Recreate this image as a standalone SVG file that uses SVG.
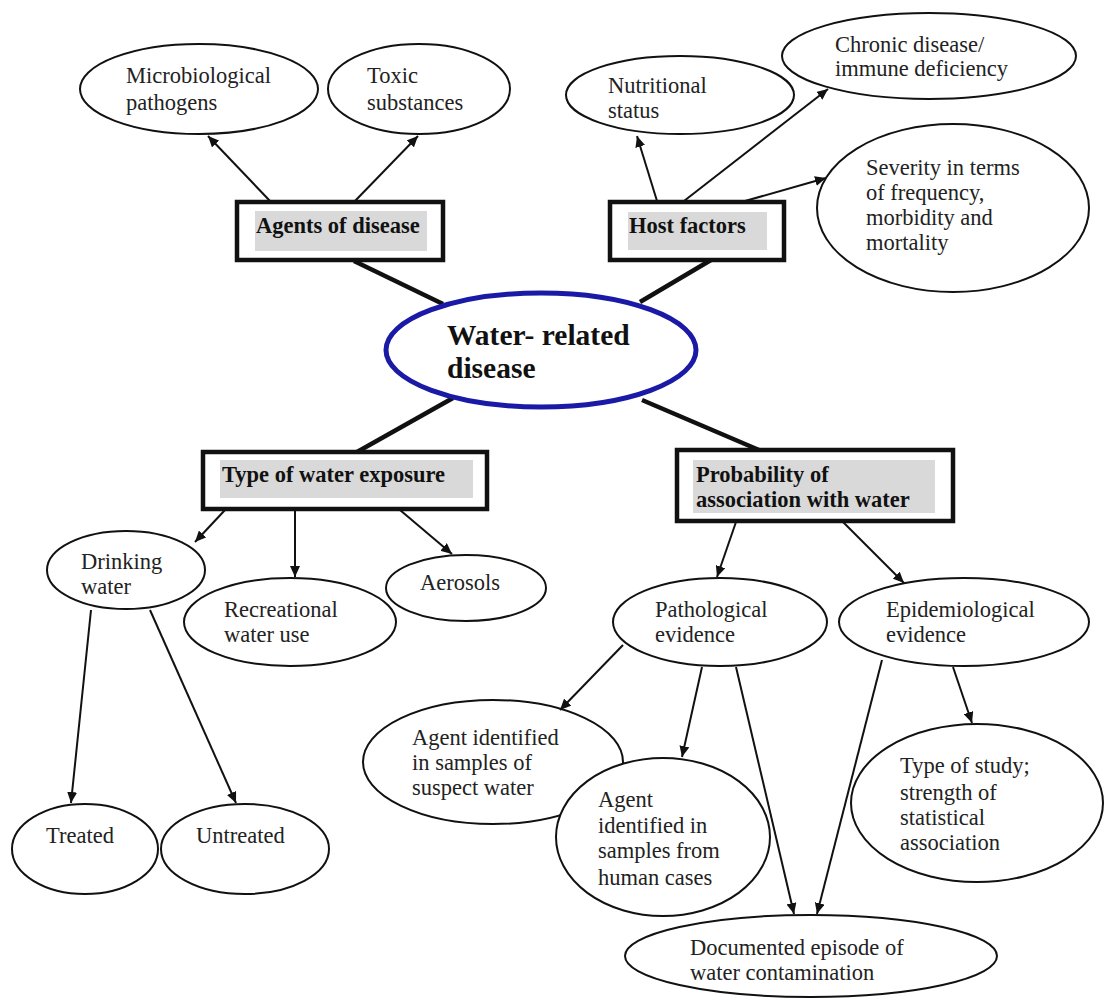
<svg xmlns="http://www.w3.org/2000/svg" width="1105" height="1001" viewBox="0 0 1105 1001">
<style>
  .bg { fill: #ffffff; }
  .node { fill: #ffffff; stroke: #111; stroke-width: 2; }
  .hub { fill: #ffffff; stroke: #1a1aa6; stroke-width: 5; }
  .box { fill: #ffffff; stroke: #111; stroke-width: 4.5; }
  .shade { fill: #d9d9d9; stroke: none; }
  .t { font-family: "Liberation Serif", "Times New Roman", serif; font-size: 22.5px; fill: #222; }
  .tb { font-family: "Liberation Serif", "Times New Roman", serif; font-size: 22.5px; font-weight: bold; fill: #111; }
  .th { font-family: "Liberation Serif", "Times New Roman", serif; font-size: 29.5px; font-weight: bold; fill: #111; }
  .arrow { stroke: #111; stroke-width: 2; fill: none; marker-end: url(#ah); }
  .thick { stroke: #111; stroke-width: 4.5; fill: none; }
</style>
<defs>
  <marker id="ah" markerUnits="userSpaceOnUse" markerWidth="12" markerHeight="10" refX="11" refY="5" orient="auto">
    <path d="M0,0 L11,5 L0,10 z" fill="#111"/>
  </marker>
</defs>
<rect class="bg" x="0" y="0" width="1105" height="1001"/>

<g id="connectors-thick">
  <line class="thick" x1="354" y1="261" x2="443" y2="304"/>
  <line class="thick" x1="711" y1="260" x2="640" y2="302"/>
  <line class="thick" x1="453" y1="398" x2="357" y2="452"/>
  <line class="thick" x1="642" y1="400" x2="759" y2="450"/>
</g>

<g id="hub">
  <ellipse class="hub" cx="541" cy="350" rx="155" ry="57"/>
  <text class="th"><tspan x="447" y="345">Water- related</tspan><tspan x="447" y="378">disease</tspan></text>
</g>

<g id="agents">
  <rect class="box" x="237" y="202" width="206" height="58"/>
  <rect class="shade" x="255" y="211" width="172" height="40"/>
  <text class="tb" x="256" y="233">Agents of disease</text>
</g>
<g id="host">
  <rect class="box" x="610" y="202" width="174" height="58"/>
  <rect class="shade" x="628" y="212" width="139" height="38"/>
  <text class="tb" x="629" y="233">Host factors</text>
</g>
<g id="exposure">
  <rect class="box" x="203" y="452" width="284" height="57"/>
  <rect class="shade" x="220" y="460" width="253" height="38"/>
  <text class="tb" x="222" y="482">Type of water exposure</text>
</g>
<g id="probability">
  <rect class="box" x="677" y="450" width="276" height="71"/>
  <rect class="shade" x="693" y="460" width="242" height="53"/>
  <text class="tb"><tspan x="696" y="482">Probability of</tspan><tspan x="696" y="507">association with water</tspan></text>
</g>

<g id="microbiological">
  <ellipse class="node" cx="199" cy="89" rx="119" ry="45"/>
  <text class="t"><tspan x="126" y="83">Microbiological</tspan><tspan x="126" y="110">pathogens</tspan></text>
</g>
<g id="toxic">
  <ellipse class="node" cx="419" cy="89" rx="91" ry="45"/>
  <text class="t"><tspan x="367" y="83">Toxic</tspan><tspan x="367" y="110">substances</tspan></text>
</g>
<g id="nutritional">
  <ellipse class="node" cx="680" cy="95" rx="114" ry="39"/>
  <text class="t"><tspan x="608" y="93">Nutritional</tspan><tspan x="608" y="118">status</tspan></text>
</g>
<g id="chronic">
  <ellipse class="node" cx="929" cy="56" rx="147" ry="43"/>
  <text class="t"><tspan x="835" y="52">Chronic disease/</tspan><tspan x="835" y="76">immune deficiency</tspan></text>
</g>
<g id="severity">
  <ellipse class="node" cx="953" cy="208" rx="136" ry="84"/>
  <text class="t"><tspan x="866" y="175">Severity in terms</tspan><tspan x="866" y="200">of frequency,</tspan><tspan x="866" y="225">morbidity and</tspan><tspan x="866" y="250">mortality</tspan></text>
</g>
<g id="drinking">
  <ellipse class="node" cx="126" cy="570" rx="79" ry="39"/>
  <text class="t"><tspan x="81" y="569">Drinking</tspan><tspan x="81" y="594">water</tspan></text>
</g>
<g id="recreational">
  <ellipse class="node" cx="290" cy="622" rx="106" ry="44"/>
  <text class="t"><tspan x="224" y="617">Recreational</tspan><tspan x="224" y="642">water use</tspan></text>
</g>
<g id="aerosols">
  <ellipse class="node" cx="466" cy="588" rx="80" ry="33"/>
  <text class="t" x="420" y="590">Aerosols</text>
</g>
<g id="treated">
  <ellipse class="node" cx="85" cy="849" rx="73" ry="45"/>
  <text class="t" x="46" y="843">Treated</text>
</g>
<g id="untreated">
  <ellipse class="node" cx="245" cy="849" rx="84" ry="45"/>
  <text class="t" x="196" y="843">Untreated</text>
</g>
<g id="pathological">
  <ellipse class="node" cx="720" cy="622" rx="107" ry="44"/>
  <text class="t"><tspan x="655" y="617">Pathological</tspan><tspan x="655" y="642">evidence</tspan></text>
</g>
<g id="epidemiological">
  <ellipse class="node" cx="964" cy="622" rx="125" ry="44"/>
  <text class="t"><tspan x="886" y="617">Epidemiological</tspan><tspan x="886" y="642">evidence</tspan></text>
</g>
<g id="agent-water">
  <ellipse class="node" cx="493" cy="762" rx="130" ry="62"/>
  <text class="t"><tspan x="412" y="745">Agent identified</tspan><tspan x="412" y="770">in samples of</tspan><tspan x="412" y="795">suspect water</tspan></text>
</g>
<g id="agent-human">
  <ellipse class="node" cx="663" cy="837" rx="107" ry="79"/>
  <text class="t"><tspan x="598" y="807">Agent</tspan><tspan x="598" y="833">identified in</tspan><tspan x="598" y="858">samples from</tspan><tspan x="598" y="885">human cases</tspan></text>
</g>
<g id="study">
  <ellipse class="node" cx="977" cy="803" rx="126" ry="79"/>
  <text class="t"><tspan x="900" y="773">Type of study;</tspan><tspan x="900" y="800">strength of</tspan><tspan x="900" y="825">statistical</tspan><tspan x="900" y="850">association</tspan></text>
</g>
<g id="documented">
  <ellipse class="node" cx="811" cy="956" rx="186" ry="41"/>
  <text class="t"><tspan x="690" y="955">Documented episode of</tspan><tspan x="690" y="980">water contamination</tspan></text>
</g>

<g id="connectors">
  <line class="arrow" x1="270" y1="201" x2="208" y2="136"/>
  <line class="arrow" x1="355" y1="201" x2="418" y2="136"/>
  <line class="arrow" x1="657" y1="201" x2="637" y2="136"/>
  <line class="arrow" x1="684" y1="201" x2="828" y2="89"/>
  <line class="arrow" x1="745" y1="201" x2="826" y2="178"/>
  <line class="arrow" x1="225" y1="510" x2="195" y2="542"/>
  <line class="arrow" x1="295" y1="510" x2="295" y2="577"/>
  <line class="arrow" x1="400" y1="510" x2="452" y2="554"/>
  <line class="arrow" x1="91" y1="610" x2="71" y2="803"/>
  <line class="arrow" x1="150" y1="610" x2="236" y2="803"/>
  <line class="arrow" x1="736" y1="522" x2="717" y2="577"/>
  <line class="arrow" x1="843" y1="522" x2="904" y2="583"/>
  <line class="arrow" x1="623" y1="645" x2="560" y2="710"/>
  <line class="arrow" x1="702" y1="667" x2="682" y2="757"/>
  <line class="arrow" x1="736" y1="667" x2="794" y2="914"/>
  <line class="arrow" x1="882" y1="660" x2="817" y2="914"/>
  <line class="arrow" x1="953" y1="667" x2="972" y2="723"/>
</g>
</svg>
